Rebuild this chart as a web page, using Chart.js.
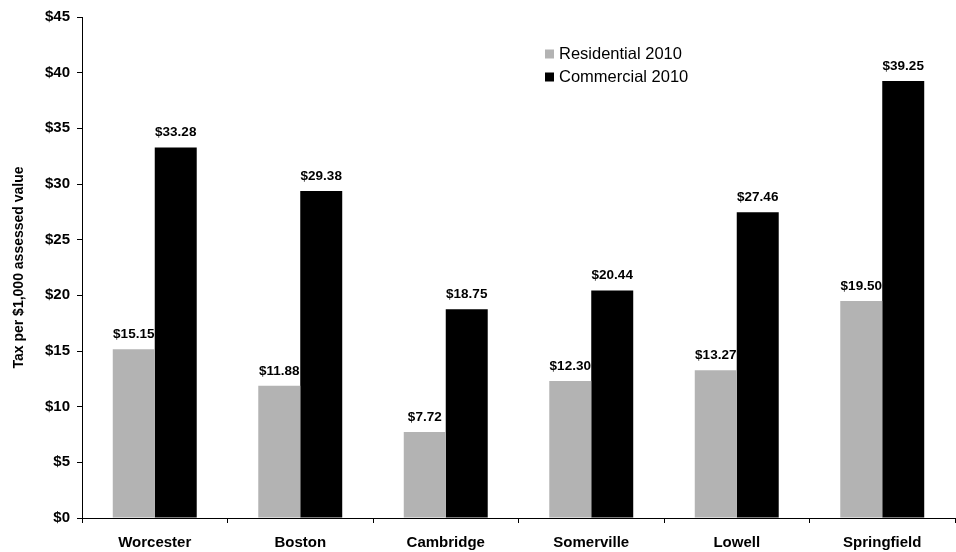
<!DOCTYPE html>
<html>
<head>
<meta charset="utf-8">
<title>Property tax rates 2010</title>
<script src="https://cdn.jsdelivr.net/npm/chart.js@4/dist/chart.umd.min.js"></script>
<style>
  html, body { margin: 0; padding: 0; background: #fff; }
  #wrap { width: 956px; height: 552px; }
</style>
</head>
<body>
<div id="wrap"><canvas id="chart" width="956" height="552"></canvas></div>
<script>
// Tax per $1,000 of assessed value, FY2010
const cities = ['Worcester', 'Boston', 'Cambridge', 'Somerville', 'Lowell', 'Springfield'];
const residential2010 = [15.15, 11.88, 7.72, 12.30, 13.27, 19.50];
const commercial2010 = [33.28, 29.38, 18.75, 20.44, 27.46, 39.25];
const yTicks = [0, 5, 10, 15, 20, 25, 30, 35, 40, 45];

const FONT = '"Liberation Sans", Arial, Helvetica, sans-serif';

const money = v => '$' + v.toFixed(2);

// Value labels above each bar
const valueLabels = {
  id: 'valueLabels',
  afterDatasetsDraw(chart) {
    const ctx = chart.ctx;
    ctx.save();
    ctx.font = 'bold 13.5px ' + FONT;
    ctx.fillStyle = '#000';
    ctx.textAlign = 'center';
    ctx.textBaseline = 'alphabetic';
    chart.data.datasets.forEach((ds, i) => {
      chart.getDatasetMeta(i).data.forEach((bar, j) => {
        ctx.fillText(money(ds.data[j]), bar.x, bar.y - 11);
      });
    });
    ctx.restore();
  }
};

// Legend boxes inside the plot, upper centre-right
const insideLegend = {
  id: 'insideLegend',
  afterDraw(chart) {
    const ctx = chart.ctx;
    ctx.save();
    ctx.font = '16.5px ' + FONT;
    ctx.textBaseline = 'middle';
    ctx.textAlign = 'left';
    const x = 545, y0 = 54, step = 23, box = 9;
    chart.data.datasets.forEach((ds, i) => {
      const cy = y0 + i * step;
      ctx.fillStyle = ds.backgroundColor;
      ctx.fillRect(x, cy - box / 2, box, box);
      ctx.fillStyle = '#000';
      ctx.fillText(ds.label, x + 14, cy);
    });
    ctx.restore();
  }
};

new Chart(document.getElementById('chart'), {
  type: 'bar',
  data: {
    labels: cities,
    datasets: [
      { label: 'Residential 2010', data: residential2010, backgroundColor: '#b3b3b3',
        categoryPercentage: 0.577, barPercentage: 1.0 },
      { label: 'Commercial 2010', data: commercial2010, backgroundColor: '#000000',
        categoryPercentage: 0.577, barPercentage: 1.0 }
    ]
  },
  options: {
    responsive: false,
    animation: false,
    devicePixelRatio: 1,
    layout: { padding: { top: 17, right: 1, bottom: 0, left: 0 } },
    plugins: {
      legend: { display: false },
      tooltip: { enabled: false }
    },
    scales: {
      x: {
        offset: true,
        grid: { offset: true, drawOnChartArea: false, drawTicks: true, tickLength: 5,
                color: '#000', lineWidth: 1 },
        border: { display: true, color: '#000', width: 1 },
        ticks: { color: '#000', font: { family: FONT, size: 15, weight: 'bold' }, padding: 11,
                 maxRotation: 0, autoSkip: false },
        afterFit(scale) { scale.height = 34; }
      },
      y: {
        min: 0,
        max: 45,
        afterBuildTicks(scale) { scale.ticks = yTicks.map(v => ({ value: v })); },
        grid: { drawOnChartArea: false, drawTicks: true, tickLength: 5, color: '#000', lineWidth: 1 },
        border: { display: true, color: '#000', width: 1 },
        ticks: { color: '#000', font: { family: FONT, size: 15, weight: 'bold' }, padding: 7,
                 callback: v => '$' + v },
        title: { display: true, text: 'Tax per $1,000 assessed value', color: '#000',
                 font: { family: FONT, size: 14, weight: 'bold' }, padding: { top: 11, bottom: 0 } },
        afterFit(scale) { scale.width = 82; }
      }
    }
  },
  plugins: [valueLabels, insideLegend]
});
</script>
</body>
</html>
